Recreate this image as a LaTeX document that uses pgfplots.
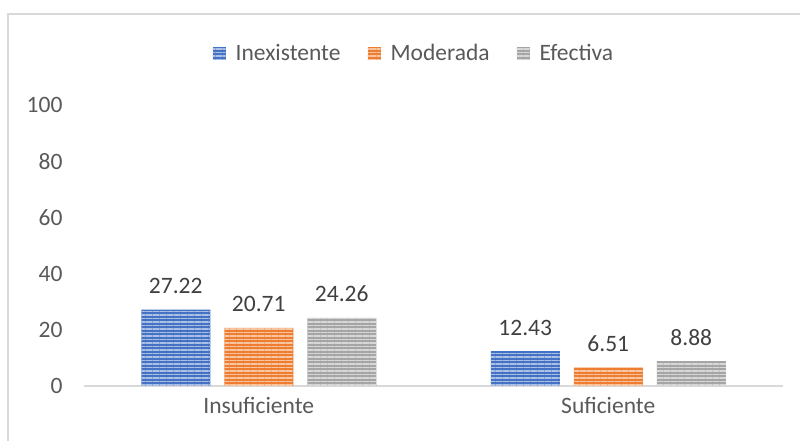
\documentclass[border=0pt]{standalone}
\usepackage{pgfplots}
\pgfplotsset{compat=1.18}
\usetikzlibrary{patterns.meta}
\usepackage{fontspec}
\setmainfont{Carlito}
\definecolor{cblue}{HTML}{4472C4}
\definecolor{corange}{HTML}{ED7D31}
\definecolor{cgray}{HTML}{A5A5A5}
\definecolor{ctick}{HTML}{595959}
\definecolor{clabel}{HTML}{404040}
\definecolor{cline}{HTML}{D9D9D9}
\newcommand{\cf}{\fontsize{23.5bp}{28bp}\selectfont}
\begin{document}
\begin{tikzpicture}[x=1bp,y=1bp]
\path[use as bounding box] (0,0) rectangle (800,441);
\draw[cline, line width=2bp] (7.5,0) -- (7.5,426.5) -- (800,426.5);
\begin{axis}[
  at={(84bp,55bp)}, anchor=south west,
  scale only axis, width=699bp, height=281bp,
  ymin=0, ymax=100, xmin=-0.5, xmax=1.5,
  ytick={0,20,...,100},
  xtick={0,1}, xticklabels={Insuficiente,Suficiente},
  axis x line*=bottom,
  x axis line style={cline, line width=2bp, -},
  y axis line style={draw=none},
  separate axis lines,
  major tick length=0pt,
  ybar=14bp, bar width=69bp,
  font=\cf,
  tick label style={ctick, font=\cf},
  yticklabel style={xshift=-18bp},
  xticklabel style={yshift=-8bp},
  /pgf/number format/assume math mode=true,
  nodes near coords,
  nodes near coords style={clabel, font=\cf, anchor=base, inner sep=0pt, yshift=16bp,
    /pgf/number format/fixed, /pgf/number format/precision=2},
  legend style={at={(0.472,1.184)}, anchor=center, draw=none, fill=none,
    legend columns=3, text=ctick, inner sep=0pt, font=\cf,
    /tikz/every odd column/.append style={column sep=8bp},
    /tikz/every even column/.append style={column sep=25bp}},
  legend image code/.code={\path[#1] (0bp,-6.5bp) rectangle (13bp,6.5bp);},
]
\addplot[draw=none, fill=cblue,
  postaction={pattern={Lines[angle=0,distance=3.5bp,line width=1.2bp]}, pattern color=cblue!45!white}]
  coordinates {(0,27.22) (1,12.43)};
\addplot[draw=none, fill=corange,
  postaction={pattern={Lines[angle=0,distance=3.5bp,line width=1.2bp]}, pattern color=corange!45!white}]
  coordinates {(0,20.71) (1,6.51)};
\addplot[draw=none, fill=cgray,
  postaction={pattern={Lines[angle=0,distance=3.5bp,line width=1.2bp]}, pattern color=cgray!45!white}]
  coordinates {(0,24.26) (1,8.88)};
\legend{Inexistente,Moderada,Efectiva}
\end{axis}
\end{tikzpicture}
\end{document}
